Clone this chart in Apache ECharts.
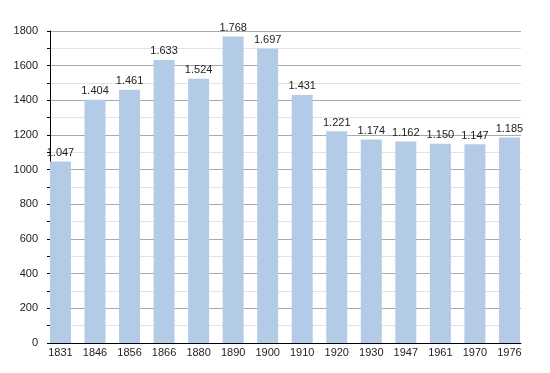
<!DOCTYPE html>
<html>
<head>
<meta charset="utf-8">
<script src="https://cdn.jsdelivr.net/npm/echarts@6/dist/echarts.min.js"></script>
<style>html,body{margin:0;padding:0;background:#fff}#c{width:550px;height:373px}</style>
</head>
<body>
<div id="c"></div>
<script>
var years = ['1831','1846','1856','1866','1880','1890','1900','1910','1920','1930','1947','1961','1970','1976'];
var population = [1047,1404,1461,1633,1524,1768,1697,1431,1221,1174,1162,1150,1147,1185];
var yMin = 0, yMax = 1800, yStep = 200;

function fmt(v){ var s = String(v); return s.length > 3 ? s.slice(0, s.length-3) + '.' + s.slice(-3) : s; }

var font = 'Liberation Sans, Arial, sans-serif';
var chart = echarts.init(document.getElementById('c'), null, {renderer:'canvas'});
chart.setOption({
  animation: false,
  grid: [
    {left: 50, right: 29, top: 31, bottom: 30},
    {left: 43.2, width: 483.5, top: 31, bottom: 30}
  ],
  xAxis: [
    {gridIndex: 0, type: 'category', data: years, boundaryGap: true,
     axisLine: {show: true, lineStyle: {color: '#000', width: 1}},
     axisTick: {show: false}, axisLabel: {show: false}, splitLine: {show: false}},
    {gridIndex: 1, type: 'category', data: years,
     axisLine: {show: false}, axisTick: {show: false},
     axisLabel: {color: '#222', fontSize: 11, fontFamily: font, margin: 4}}
  ],
  yAxis: [
    {gridIndex: 0, type: 'value', min: yMin, max: yMax, interval: yStep,
     axisLine: {show: true, lineStyle: {color: '#000', width: 1}},
     axisTick: {show: true, length: 3, lineStyle: {color: '#000'}},
     minorTick: {show: true, splitNumber: 2, length: 3, lineStyle: {color: '#000'}},
     axisLabel: {color: '#222', fontSize: 11, fontFamily: font, margin: 12,
                 formatter: function(v){ return String(v); }},
     splitLine: {show: true, lineStyle: {color: '#aaa', width: 1}},
     minorSplitLine: {show: true, lineStyle: {color: '#e2e2e2', width: 1}}},
    {gridIndex: 1, type: 'value', min: yMin, max: yMax, interval: yStep, show: false}
  ],
  series: [{
    type: 'bar', xAxisIndex: 1, yAxisIndex: 1, data: population, barWidth: 21,
    itemStyle: {color: '#b3cbe6'},
    label: {show: true, position: 'top', distance: 3, color: '#222', fontSize: 11, fontFamily: font,
            formatter: function(p){ return fmt(p.value); }}
  }]
});
</script>
</body>
</html>
